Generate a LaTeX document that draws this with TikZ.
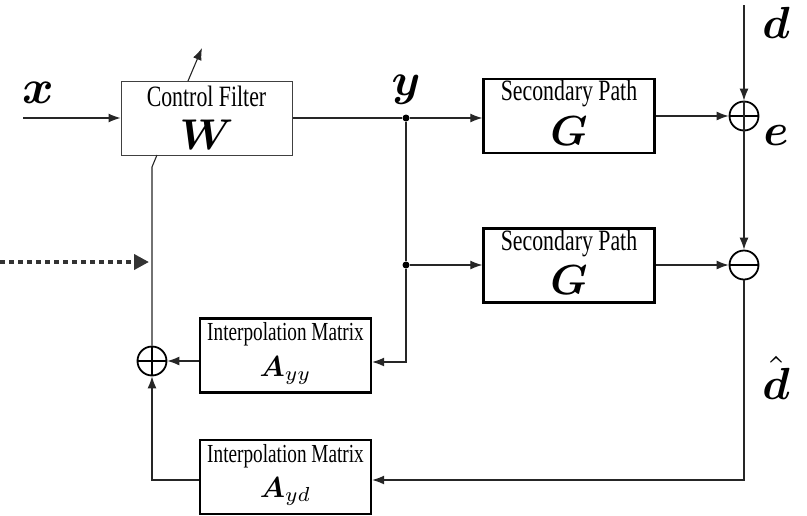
\documentclass[tikz,border=0pt]{standalone}
\usepackage{amsmath}
\usepackage{graphicx}
\usepackage{fontspec}
\newfontfamily\boxfont[FakeStretch=0.74]{Liberation Serif}
\usetikzlibrary{arrows.meta,calc}
\newcommand{\mathscaled}[2]{\scalebox{#1}{\fontsize{10}{12}\selectfont$#2$}}
\begin{document}
\begin{tikzpicture}[x=1pt,y=-1pt,
  thinbox/.style={draw=black!75, line width=1pt, minimum width=171pt, minimum height=74pt, inner sep=0pt},
  thickbox/.style={draw=black, line width=2.4pt, minimum width=171pt, minimum height=74pt, inner sep=0pt},
  conn/.style={line width=1.1pt, draw=black!85},
  arr/.style={conn, -{Latex[length=12pt,width=9pt]}},
  sumnode/.style={circle, draw=black, line width=1.8pt, minimum size=29pt, inner sep=0pt},
  sumline/.style={line width=2pt, draw=black},
  jdot/.style={circle, fill=black, inner sep=0pt, minimum size=7pt},
  titletext/.style={font=\boxfont\fontsize{29.5}{29.5}\selectfont, inner sep=0pt},
  smalltitle/.style={font=\boxfont\fontsize{26}{26}\selectfont, inner sep=0pt},
  plain/.style={inner sep=0pt},
  dotarrow/.style={line width=4pt, draw=black!80, dash pattern=on 5pt off 4pt, -{Triangle[length=15pt,width=15pt]}}
]
\useasboundingbox (0,0) rectangle (807,515);

% boxes
\node[thinbox] (W) at (206.5,118) {};
\node[titletext] at ($(W.north)+(0,16)$) {Control Filter};
\node[plain] at ($(W.north)+(0,54)$) {\mathscaled{4.3}{\boldsymbol{W}}};

\node[thickbox] (G1) at (569,116) {};
\node[titletext] at ($(G1.north)+(0,16)$) {Secondary Path};
\node[plain] at ($(G1.north)+(0,53)$) {\mathscaled{4.2}{\boldsymbol{G}}};

\node[thickbox] (G2) at (569,265.5) {};
\node[titletext] at ($(G2.north)+(0,16)$) {Secondary Path};
\node[plain] at ($(G2.north)+(0,53)$) {\mathscaled{4.2}{\boldsymbol{G}}};

\node[thickbox] (Ayy) at (285.5,355.5) {};
\node[smalltitle] at ($(Ayy.north)+(0,17)$) {Interpolation Matrix};
\node[plain] at ($(Ayy.north)+(0,53)$) {\mathscaled{2.9}{\boldsymbol{A}_{yy}}};

\node[thickbox] (Ayd) at (285.5,477) {};
\node[smalltitle] at ($(Ayd.north)+(0,17)$) {Interpolation Matrix};
\node[plain] at ($(Ayd.north)+(0,53)$) {\mathscaled{2.9}{\boldsymbol{A}_{yd}}};

% summing junctions
\node[sumnode] (S1) at (744,116) {};
\draw[sumline] (S1.west) -- (S1.east);
\node[sumnode] (S2) at (744,265) {};
\draw[sumline] (S2.west) -- (S2.east);
\node[sumnode] (S3) at (152,361) {};
\draw[sumline] (S3.west) -- (S3.east) (S3.north) -- (S3.south);

% junction dots
\node[jdot] (J1) at (406,118) {};
\node[jdot] (J2) at (406,265) {};

% coordinates
\coordinate (xin) at (23,118);
\coordinate (din) at (744,5);
\coordinate (adS) at (188,81);
\coordinate (adE) at (202,48);
\coordinate (fbK) at (152,167);
\coordinate (fbW) at (157,155);
\coordinate (dotS) at (0,262);
\coordinate (dotE) at (149,262);

% labels
\node[plain] (lx) at (38,93) {\mathscaled{4.8}{\boldsymbol{x}}};
\node[plain] (ly) at (406,90) {\mathscaled{4.6}{\boldsymbol{y}}};
\node[plain] (ld) at (776,23) {\mathscaled{4.5}{\boldsymbol{d}}};
\node[plain] (le) at (776,135) {\mathscaled{4.5}{\boldsymbol{e}}};
\node[plain] (ldh) at (776,378) {\mathscaled{4.5}{\hat{\boldsymbol{d}}}};

% connectors
\draw[arr] (xin) -- (W.west |- xin);
\draw[arr] (adS) -- (adE);
\draw[conn] (W.east |- J1) -- (J1);
\draw[arr] (J1) -- (G1.west |- J1);
\draw[conn] (J1) -- (J2);
\draw[arr] (J2) -- (G2.west |- J2);
\draw[arr] (J2) -- (J2 |- 0,362) -- (Ayy.east |- 0,362);
\draw[arr] (G1.east |- S1) -- (S1.west);
\draw[arr] (din) -- (S1.north);
\draw[conn] (S1.north) -- (S1.south);
\draw[arr] (S1.south) -- (S2.north);
\draw[arr] (G2.east |- S2) -- (S2.west);
\draw[arr] (S2.south) -- (S2.south |- 0,480) -- (Ayd.east |- 0,480);
\draw[arr] (Ayy.west |- S3) -- (S3.east);
\draw[arr] (Ayd.west |- 0,480) -- (S3.south |- 0,480) -- (S3.south);
\draw[conn] (S3.north) -- (fbK) -- (fbW);
\draw[dotarrow] (dotS) -- (dotE);
\end{tikzpicture}
\end{document}
